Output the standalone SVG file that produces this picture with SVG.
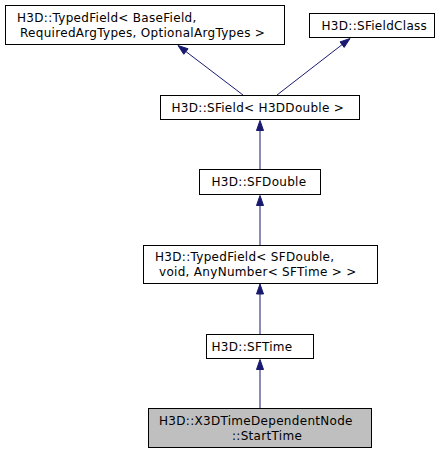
<svg xmlns="http://www.w3.org/2000/svg" width="445" height="455" viewBox="0 0 445 455">
<defs>
<style>
.n rect{fill:#fff;stroke:#000;stroke-width:1}
.g rect{fill:#bfbfbf}
text{font-family:"DejaVu Sans",sans-serif;font-size:12px;letter-spacing:0.3px;fill:#000}
.e line{stroke:#191970;stroke-width:1}
.e polygon{fill:#191970;stroke:#191970;stroke-width:1}
</style>
</defs>
<g id="connectors" class="e">
<line x1="243" y1="95" x2="186" y2="51.6"/>
<polygon points="178,45.5 188.1,48.8 183.8,54.3"/>
<line x1="277" y1="95" x2="342.1" y2="44.6"/>
<polygon points="350,38.5 340,41.9 344.2,47.4"/>
<line x1="260" y1="169" x2="260" y2="130.5"/>
<polygon points="256.5,130.5 260,120.5 263.5,130.5"/>
<line x1="260" y1="245" x2="260" y2="205.5"/>
<polygon points="256.5,205.5 260,195.5 263.5,205.5"/>
<line x1="260" y1="334" x2="260" y2="294"/>
<polygon points="256.5,294 260,284 263.5,294"/>
<line x1="260" y1="408" x2="260" y2="369.5"/>
<polygon points="256.5,369.5 260,359.5 263.5,369.5"/>
</g>
<g id="node1" class="n">
<rect x="5.5" y="5.5" width="279" height="39"/>
<text x="17" y="22">H3D::TypedField&lt; BaseField,</text>
<text x="20" y="37">RequiredArgTypes, OptionalArgTypes &gt;</text>
</g>
<g id="node2" class="n">
<rect x="309.5" y="13.5" width="125" height="24"/>
<text x="321.5" y="30">H3D::SFieldClass</text>
</g>
<g id="node3" class="n">
<rect x="160.5" y="95.5" width="199" height="24"/>
<text x="171.5" y="112">H3D::SField&lt; H3DDouble &gt;</text>
</g>
<g id="node4" class="n">
<rect x="199.5" y="169.5" width="121" height="25"/>
<text x="211.5" y="185.5">H3D::SFDouble</text>
</g>
<g id="node5" class="n">
<rect x="143.5" y="245.5" width="234" height="38"/>
<text x="155" y="261">H3D::TypedField&lt; SFDouble,</text>
<text x="159" y="275.5">void, AnyNumber&lt; SFTime &gt; &gt;</text>
</g>
<g id="node6" class="n">
<rect x="206.5" y="334.5" width="107" height="24"/>
<text x="211.5" y="351">H3D::SFTime</text>
</g>
<g id="node7" class="n g">
<rect x="148.5" y="408.5" width="223" height="39"/>
<text x="159" y="425">H3D::X3DTimeDependentNode</text>
<text x="232" y="439.5">::StartTime</text>
</g>
</svg>
